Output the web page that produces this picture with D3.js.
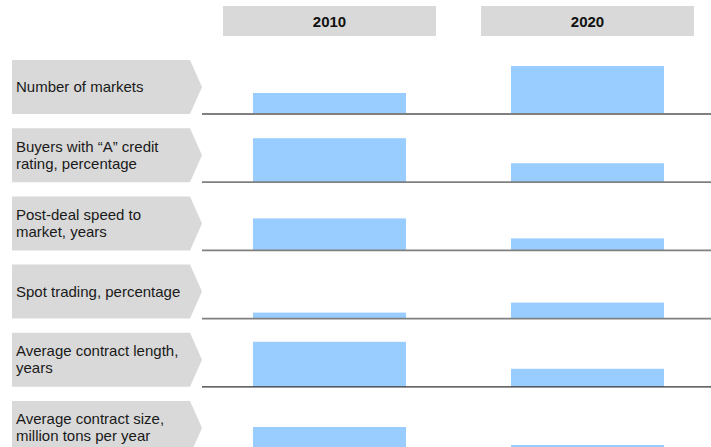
<!DOCTYPE html>
<html>
<head>
<meta charset="utf-8">
<script src="https://cdn.jsdelivr.net/npm/d3@7"></script>
<style>
  html, body { margin: 0; padding: 0; background: #fff; }
  svg { display: block; font-family: Arial, "Liberation Sans", sans-serif; }
</style>
</head>
<body>
<svg id="chart" width="711" height="447"></svg>
<script>
// ---- data ----
const categories = [
  "Number of markets",
  "Buyers with \u201CA\u201D credit\nrating, percentage",
  "Post-deal speed to\nmarket, years",
  "Spot trading, percentage",
  "Average contract length,\nyears",
  "Average contract size,\nmillion tons per year"
];
const years = ["2010", "2020"];
const values2010 = [21, 44, 32, 6, 45, 28];
const values2020 = [48, 19, 12, 16, 18, 10];

// ---- layout ----
const svg = d3.select("#chart");
const W = 711;

const yRow = d3.scaleBand().domain(categories).range([60, 455]).paddingInner(0.208).paddingOuter(0);
const xCol = d3.scaleBand().domain(years).range([223, 694]).paddingInner(0.1744).paddingOuter(0);
const h = d3.scaleLinear().domain([0, 50]).range([0, 50]);
const barW = 153;

const seriesByYear = { "2010": values2010, "2020": values2020 };

// headers
const hdr = svg.append("g");
hdr.selectAll("rect").data(years).join("rect")
  .attr("x", d => xCol(d)).attr("y", 6)
  .attr("width", xCol.bandwidth()).attr("height", 30)
  .attr("fill", "#d9d9d9");
hdr.selectAll("text").data(years).join("text")
  .attr("x", d => xCol(d) + xCol.bandwidth() / 2).attr("y", 27)
  .attr("text-anchor", "middle")
  .attr("font-size", 15).attr("font-weight", "bold").attr("fill", "#111")
  .text(d => d);

// row labels (chevrons)
const rows = svg.append("g");
const bw = yRow.bandwidth();
rows.selectAll("path").data(categories).join("path")
  .attr("d", d => {
    const t = yRow(d), b = t + bw, m = t + bw / 2;
    return `M12,${t}L190,${t}L202,${m}L190,${b}L12,${b}Z`;
  })
  .attr("fill", "#d9d9d9");

rows.selectAll("text").data(categories).join("text")
  .attr("font-size", 15).attr("fill", "#1a1a1a")
  .each(function(d) {
    const lines = d.split("\n");
    const lh = 17;
    const mid = yRow(d) + bw / 2;
    const first = mid + 5 - (lines.length - 1) * lh / 2;
    d3.select(this).selectAll("tspan").data(lines).join("tspan")
      .attr("x", 16)
      .attr("y", (l, i) => first + i * lh)
      .text(l => l);
  });

// bars
const bars = svg.append("g");
years.forEach(yr => {
  bars.selectAll(null).data(categories.map((c, i) => ({ c, v: seriesByYear[yr][i] }))).join("rect")
    .attr("x", xCol(yr) + (xCol.bandwidth() - barW) / 2)
    .attr("width", barW)
    .attr("y", d => yRow(d.c) + bw - h(d.v))
    .attr("height", d => h(d.v))
    .attr("fill", "#99ccff");
});

// baselines
svg.append("g").selectAll("line").data(categories).join("line")
  .attr("x1", 202).attr("x2", W)
  .attr("y1", d => yRow(d) + bw).attr("y2", d => yRow(d) + bw)
  .attr("stroke", (d, i) => i === 4 ? "#333333" : "#808080")
  .attr("stroke-width", (d, i) => i === 4 ? 1.2 : 1.8);
</script>
</body>
</html>
